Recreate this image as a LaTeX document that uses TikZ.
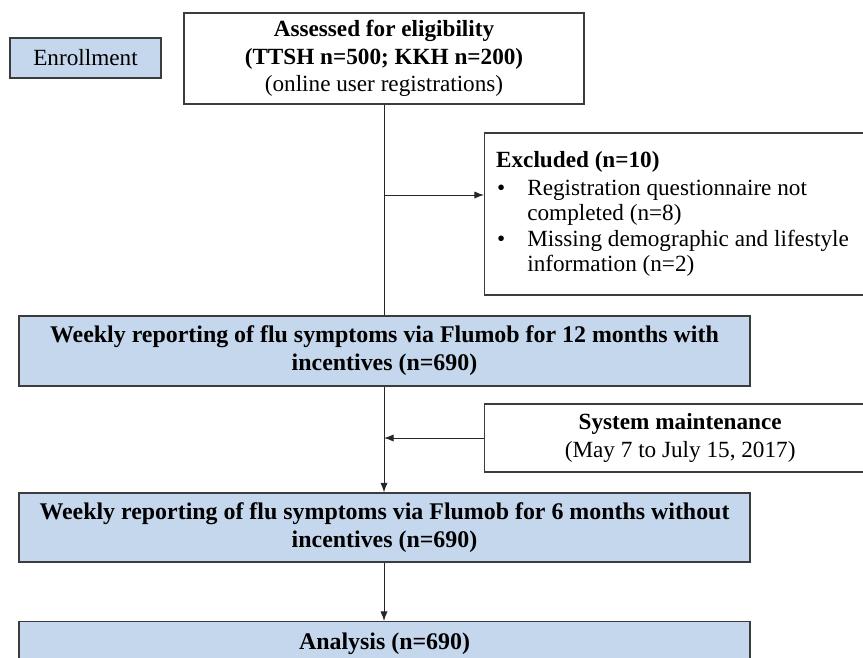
\documentclass[tikz,border=0pt]{standalone}
\usepackage{fontspec}
\setmainfont{Liberation Serif}
\usepackage{enumitem}
\usepackage{tikz}
\usetikzlibrary{arrows.meta,positioning}

\definecolor{flublue}{RGB}{197,215,237}
\definecolor{boxline}{RGB}{60,60,60}

\tikzset{
  box/.style={draw=boxline, line width=0.9pt, align=center, inner sep=2pt,
              font=\fontsize{16.5}{19.5}\selectfont},
  bluebox/.style={box, fill=flublue},
  widebox/.style={bluebox, minimum width=18.275cm, font=\fontsize{17}{20}\selectfont\bfseries},
  sidebox/.style={box, anchor=west, minimum width=9.775cm},
  link/.style={line width=0.7pt, draw=black!85, -{Latex[length=2.4mm,width=1.8mm]}},
  trunkline/.style={line width=0.7pt, draw=black!85}
}

\begin{document}
\begin{tikzpicture}
    \useasboundingbox (0,0) rectangle (21.575,-16.425);

    % left label
    \node[bluebox, minimum width=3.775cm, minimum height=1.0cm] (enrol) at (2.1375,-1.45) {Enrollment};

    % top box
    \node[box, minimum width=10cm, minimum height=2.275cm] (assess) at (9.6,-1.4625)
        {\textbf{Assessed for eligibility}\\ \textbf{(TTSH n=500; KKH n=200)}\\ (online user registrations)};

    % main column
    \node[widebox, minimum height=1.75cm] (week1) at (9.6125,-8.775)
        {Weekly reporting of flu symptoms via Flumob for 12 months with\\ incentives (n=690)};
    \node[widebox, minimum height=1.725cm] (week2) at (9.6125,-13.1875)
        {Weekly reporting of flu symptoms via Flumob for 6 months without\\ incentives (n=690)};
    \node[widebox, anchor=north, minimum height=1.1cm] (analysis) at (9.6125,-15.525) {Analysis (n=690)};

    % side boxes
    \node[sidebox, minimum height=4.05cm, align=left, inner xsep=0.28cm,
          font=\fontsize{16.5}{18}\selectfont] (excl) at (12.1,-5.35)
        {\begin{minipage}{9.2cm}
         \textbf{Excluded (n=10)}
         \begin{itemize}[leftmargin=0.78cm, labelsep=0.55cm, nosep, topsep=2pt]
           \item Registration questionnaire not\\ completed (n=8)
           \item Missing demographic and lifestyle\\ information (n=2)
         \end{itemize}
         \end{minipage}};
    \node[sidebox, minimum height=1.7cm] (maint) at (12.1,-10.95)
        {\textbf{System maintenance}\\ (May 7 to July 15, 2017)};

    % connectors
    \coordinate (trunk) at (9.6,0);
    \draw[trunkline] (assess.south -| trunk) -- (week1.north -| trunk);
    \draw[link] ([yshift=0.475cm]excl.west -| trunk) -- ([yshift=0.475cm]excl.west);
    \draw[link] (week1.south -| trunk) -- (week2.north -| trunk);
    \draw[link] (maint.west) -- (maint.west -| trunk);
    \draw[link] (week2.south -| trunk) -- (analysis.north -| trunk);
\end{tikzpicture}
\end{document}
